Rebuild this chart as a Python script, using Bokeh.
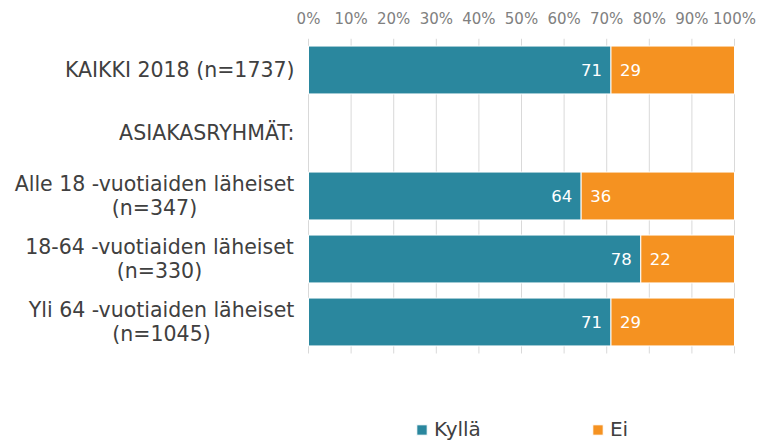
from bokeh.plotting import figure
from bokeh.models import (Range1d, LinearAxis, FixedTicker, PrintfTickFormatter,
                          ColumnDataSource, Legend, LegendItem)
from bokeh.core.properties import value
from bokeh.embed import file_html
from bokeh.resources import INLINE

# ---- data ----
categories = ["KAIKKI 2018 (n=1737)", "ASIAKASRYHMÄT:",
              "Alle 18 -vuotiaiden läheiset\n(n=347)",
              "18-64 -vuotiaiden läheiset\n(n=330)",
              "Yli 64 -vuotiaiden läheiset\n(n=1045)"]
has_bar = [True, False, True, True, True]
kylla = [71, 0, 64, 78, 71]
ei = [29, 0, 36, 22, 29]
x_ticks = [0, 10, 20, 30, 40, 50, 60, 70, 80, 90, 100]
series_names = ["Kyllä", "Ei"]

# ---- styles / layout ----
TEAL = "#2A879E"
ORANGE = "#F59221"
FONT = "DejaVu Sans"
BAR_H = 0.76
# x offsets (px) of the centre of each two-line category label
two_line_offsets = [-154, -149, -147]

p = figure(width=758, height=443, output_backend="svg", toolbar_location=None,
           x_range=Range1d(-72.3, 105.63), y_range=Range1d(5.9286, -0.5),
           x_axis_location=None, y_axis_location=None,
           min_border_left=0, min_border_right=0, min_border_top=38, min_border_bottom=0)
p.outline_line_color = None
p.xgrid.visible = False
p.ygrid.visible = False

top_axis = LinearAxis(ticker=FixedTicker(ticks=x_ticks),
                      formatter=PrintfTickFormatter(format="%d%%"))
top_axis.axis_line_color = None
top_axis.major_tick_line_color = None
top_axis.minor_tick_line_color = None
top_axis.major_tick_out = 0
top_axis.major_tick_in = 0
top_axis.major_label_standoff = 11
top_axis.major_label_text_font = FONT
top_axis.major_label_text_font_size = "15px"
top_axis.major_label_text_color = "#808080"
p.add_layout(top_axis, "above")

idx = list(range(len(categories)))

# vertical gridlines spanning the category band
p.segment(x0=x_ticks, x1=x_ticks, y0=[idx[0] - 0.5] * len(x_ticks), y1=[idx[-1] + 0.5] * len(x_ticks),
          line_color="#D9D9D9", line_width=1)

bar_y = [i for i, h in zip(idx, has_bar) if h]
bar_k = [v for v, h in zip(kylla, has_bar) if h]
bar_e = [v for v, h in zip(ei, has_bar) if h]
src = ColumnDataSource(dict(y=bar_y, k=bar_k, e=bar_e,
                            tot=[a + b for a, b in zip(bar_k, bar_e)],
                            klab=[str(v) for v in bar_k], elab=[str(v) for v in bar_e]))

r1 = p.hbar(y="y", left=0, right="k", height=BAR_H, source=src,
            fill_color=TEAL, line_color="white", line_width=1)
r2 = p.hbar(y="y", left="k", right="tot", height=BAR_H, source=src,
            fill_color=ORANGE, line_color="white", line_width=1)

p.text(x="k", y="y", text="klab", source=src, x_offset=-9, text_align="right",
       text_baseline="middle", text_color="white", text_font=value(FONT), text_font_size="16.5px")
p.text(x="k", y="y", text="elab", source=src, x_offset=9, text_align="left",
       text_baseline="middle", text_color="white", text_font=value(FONT), text_font_size="16.5px")

# category labels
single = [(i, c) for i, c in zip(idx, categories) if "\n" not in c]
multi = [(i, c) for i, c in zip(idx, categories) if "\n" in c]
p.text(x=[0] * len(single), y=[i for i, _ in single], text=[c for _, c in single],
       x_offset=-14, text_align="right", text_baseline="middle", text_color="#404040",
       text_font=value(FONT), text_font_size="20.5px")
for (i, c), off in zip(multi, two_line_offsets):
    p.text(x=[0], y=[i], text=[c], x_offset=off, text_align="center", text_baseline="middle",
           text_line_height=1.0, text_color="#404040", text_font=value(FONT),
           text_font_size="20.5px")

legend = Legend(items=[LegendItem(label=series_names[0], renderers=[r1]),
                       LegendItem(label=series_names[1], renderers=[r2])],
                location=(415, 2), orientation="horizontal")
legend.border_line_color = None
legend.background_fill_alpha = 0
legend.padding = 0
legend.margin = 0
legend.glyph_width = 13
legend.glyph_height = 13
legend.label_height = 13
legend.label_standoff = 6
legend.spacing = 110
legend.label_text_font = FONT
legend.label_text_font_size = "20px"
legend.label_text_color = "#404040"
p.add_layout(legend, "center")

open("out.html", "w").write(file_html(p, INLINE))
